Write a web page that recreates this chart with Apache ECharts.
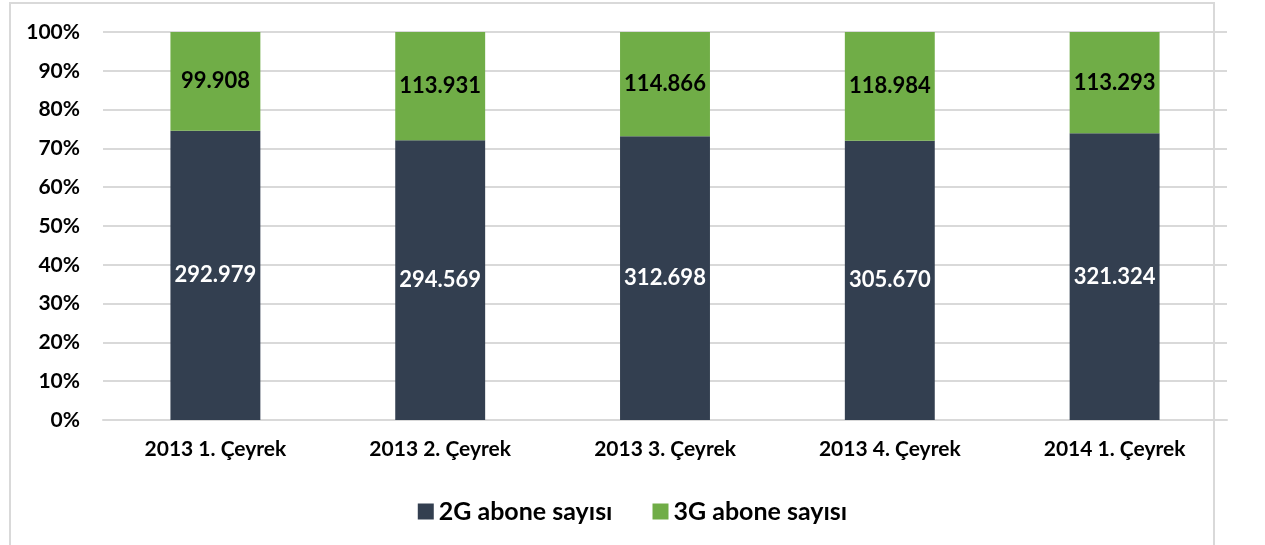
<!DOCTYPE html>
<html>
    <head>
        <meta charset="utf-8">
        <title>2G / 3G abone sayısı</title>
        <script src="https://cdn.jsdelivr.net/npm/echarts@6/dist/echarts.min.js"></script>
        <style>
            body { margin: 0; background: #fff; }
            #frame { position: absolute; left: 9px; top: 2px; width: 1206px; height: 560px; border: 2px solid #d9d9d9; box-sizing: border-box; }
            #chart { position: absolute; left: 0; top: 0; width: 1265px; height: 545px; }
        </style>
    </head>
    <body>
        <div id="frame"></div>
        <div id="chart"></div>
        <script>
            var categories = ['2013 1. Çeyrek', '2013 2. Çeyrek', '2013 3. Çeyrek', '2013 4. Çeyrek', '2014 1. Çeyrek'];
            var abone2G = [292979, 294569, 312698, 305670, 321324];
            var abone3G = [99908, 113931, 114866, 118984, 113293];

            var fontFamily = 'Lato, "Open Sans", sans-serif';

            // 100% yığılmış: her çeyreğin payı
            function share(arr, idx) {
                var total = abone2G[idx] + abone3G[idx];
                return arr[idx] / total * 100;
            }
            var pct2G = abone2G.map(function (v, i) { return share(abone2G, i); });
            var pct3G = abone3G.map(function (v, i) { return share(abone3G, i); });

            function fmt(n) {
                return String(n).replace(/\B(?=(\d{3})+(?!\d))/g, '.');
            }

            var myChart = echarts.init(document.getElementById('chart'));

            var option = {
                animation: false,
                textStyle: { fontFamily: fontFamily },
                grid: { left: 103, right: 38, top: 32, bottom: 125, containLabel: false },
                legend: {
                    data: ['2G abone sayısı', '3G abone sayısı'],
                    top: 494,
                    left: 'center',
                    icon: 'rect',
                    itemWidth: 16,
                    itemHeight: 16,
                    itemGap: 40,
                    textStyle: { fontSize: 25, fontWeight: 'bold', color: '#000', fontFamily: fontFamily }
                },
                xAxis: {
                    type: 'category',
                    data: categories,
                    axisLine: { lineStyle: { color: '#d9d9d9', width: 2 } },
                    axisTick: { show: false },
                    axisLabel: { fontSize: 21, fontWeight: 'bold', color: '#000', margin: 19 }
                },
                yAxis: {
                    type: 'value',
                    min: 0,
                    max: 100,
                    interval: 10,
                    axisLine: { show: false },
                    axisTick: { show: false },
                    axisLabel: { fontSize: 21, fontWeight: 'bold', color: '#000', margin: 23, formatter: '{value}%' },
                    splitLine: { lineStyle: { color: '#d9d9d9', width: 2 } }
                },
                series: [{
                    name: '2G abone sayısı',
                    type: 'bar',
                    stack: 'toplam',
                    barWidth: '40%',
                    data: pct2G,
                    itemStyle: { color: '#333f50' },
                    label: {
                        show: true,
                        position: 'inside',
                        color: '#fff',
                        fontSize: 22,
                        fontWeight: 'bold',
                        formatter: function (p) { return fmt(abone2G[p.dataIndex]); }
                    }
                }, {
                    name: '3G abone sayısı',
                    type: 'bar',
                    stack: 'toplam',
                    data: pct3G,
                    itemStyle: { color: '#70ad47' },
                    label: {
                        show: true,
                        position: 'inside',
                        color: '#000',
                        fontSize: 22,
                        fontWeight: 'bold',
                        formatter: function (p) { return fmt(abone3G[p.dataIndex]); }
                    }
                }]
            };

            myChart.setOption(option);
        </script>
    </body>
</html>
